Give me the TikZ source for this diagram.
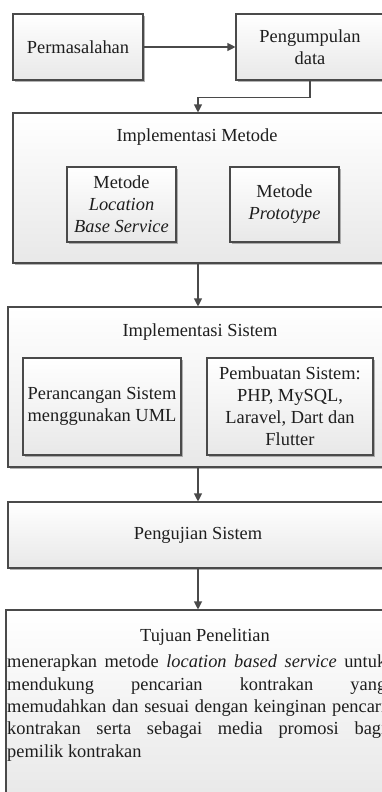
\documentclass[tikz,border=0pt]{standalone}
\usepackage{fontspec}
\setmainfont{Liberation Serif}
\usetikzlibrary{arrows.meta,shadows}
\definecolor{edge}{HTML}{4A4A4A}
\definecolor{ink}{HTML}{1E1E1E}
\begin{document}
\begin{tikzpicture}[x=1pt,y=-1pt,
  font=\fontsize{18.4}{22}\selectfont,
  box/.style={draw=edge, line width=1.1pt, top color=white, bottom color=black!9,
    drop shadow={shadow xshift=1.5pt,shadow yshift=-1.8pt,fill=black!50,opacity=.6},
    text=ink, inner sep=0pt, align=center},
  label/.style={text=ink, inner sep=0pt},
  flow/.style={draw=edge, line width=1.1pt, -{Triangle[width=8pt,length=8pt]}}]
\clip (0,0) rectangle (382,792);
\fill[white] (0,0) rectangle (382,792);

% first row
\node[box, minimum width=130pt, minimum height=66pt] (perm) at (78,47) {Permasalahan};
\node[box, minimum width=148pt, minimum height=66pt, text depth=0pt] (peng) at (310,47)
  {Pengumpulan\\data};

% method stage
\node[box, minimum width=370pt, minimum height=150pt] (metode) at (198,188) {};
\node[label] (metodetitle) at (197,137) {Implementasi Metode};
\node[box, minimum width=109pt, minimum height=75pt] (lbs) at (121.5,204.5)
  {Metode\\\textit{Location}\\\textit{Base Service}};
\node[box, minimum width=109pt, minimum height=75pt] (proto) at (284.5,204.5)
  {Metode\\\textit{Prototype}};

% system stage
\node[box, minimum width=380pt, minimum height=160pt] (sistem) at (198,387) {};
\node[label] (sistemtitle) at (200,332) {Implementasi Sistem};
\node[box, minimum width=158pt, minimum height=97pt] (uml) at (102,406.5)
  {Perancangan Sistem\\menggunakan UML};
\node[box, minimum width=166pt, minimum height=97pt] (php) at (290,406.5)
  {Pembuatan Sistem:\\PHP, MySQL,\\Laravel, Dart dan\\Flutter};

% testing
\node[box, minimum width=380pt, minimum height=66pt] (uji) at (198,535) {Pengujian Sistem};

% goal
\node[box, minimum width=398pt, minimum height=190pt] (tujuan) at (205,705) {};
\node[label] (tujuantitle) at (205,637) {Tujuan Penelitian};
\node[label, anchor=north west, align=left, font=\fontsize{18.4}{22.3}\selectfont]
  (tujuantext) at (7,655)
  {\makebox[379pt][s]{menerapkan metode \textit{location based service} untuk}\\
   \makebox[379pt][s]{mendukung pencarian kontrakan yang}\\
   \makebox[379pt][s]{memudahkan dan sesuai dengan keinginan pencari}\\
   \makebox[379pt][s]{kontrakan serta sebagai media promosi bagi}\\
   pemilik kontrakan};

% connectors
\draw[flow] (perm.east) -- (peng.west);
\draw[flow] (peng.south) -- ++(0,17) -| (metode.north);
\draw[flow] (metode.south) -- (sistem.north);
\draw[flow] (sistem.south) -- (uji.north);
\draw[flow] (uji.south) -- (uji.south |- tujuan.north);
\end{tikzpicture}
\end{document}
